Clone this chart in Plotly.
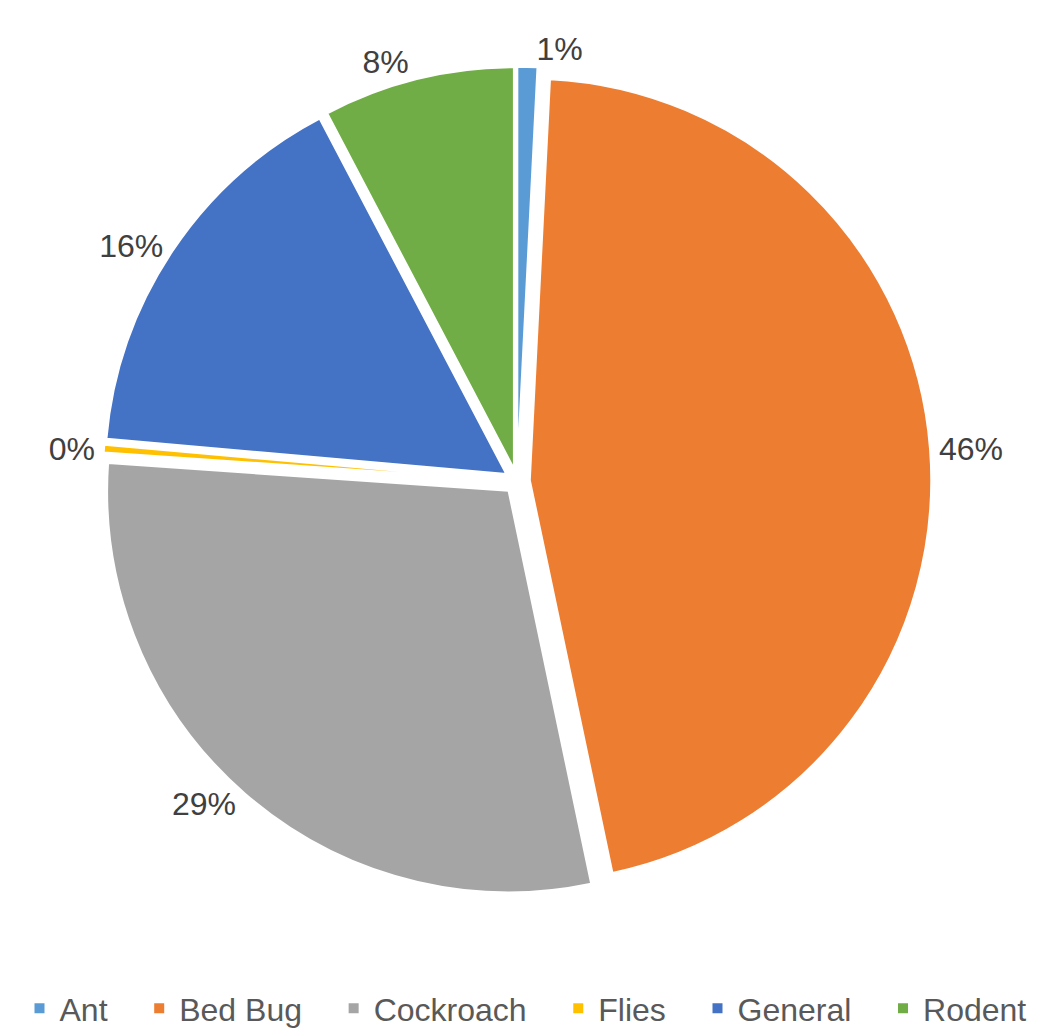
import plotly.graph_objects as go

categories = ["Ant", "Bed Bug", "Cockroach", "Flies", "General", "Rodent"]
values = [0.8, 45.9, 29.4, 0.3, 15.9, 7.7]
colors = ["#5B9BD5", "#ED7D31", "#A5A5A5", "#FFC000", "#4472C4", "#70AD47"]

W, H = 1051, 1036
cx, cy, r = 517, 479, 403
pull = 0.032
half = r * (1 + pull)

# trailing non-breaking spaces widen the gap between legend entries
legend_labels = [c + "\u00a0" * 3 for c in categories[:-1]] + [categories[-1]]

fig = go.Figure(go.Pie(
    labels=legend_labels,
    values=values,
    sort=False,
    direction="clockwise",
    rotation=0,
    pull=[pull] * len(values),
    marker=dict(colors=colors, line=dict(color="white", width=2)),
    textposition="outside",
    texttemplate="%{percent:.0%}",
    textfont=dict(family="Liberation Sans, Arial, sans-serif", size=32, color="#404040"),
    domain=dict(x=[(cx - half) / W, (cx + half) / W], y=[1 - (cy + half) / H, 1 - (cy - half) / H]),
    hoverinfo="label+percent",
))

fig.update_layout(
    width=W, height=H,
    margin=dict(l=0, r=0, t=0, b=0),
    paper_bgcolor="white",
    plot_bgcolor="white",
    showlegend=True,
    legend=dict(
        orientation="h",
        x=0.5, xanchor="center",
        y=0, yanchor="bottom",
        font=dict(family="Liberation Sans, Arial, sans-serif", size=32, color="#595959"),
        traceorder="normal",
    ),
)

fig.write_html("out.html")
